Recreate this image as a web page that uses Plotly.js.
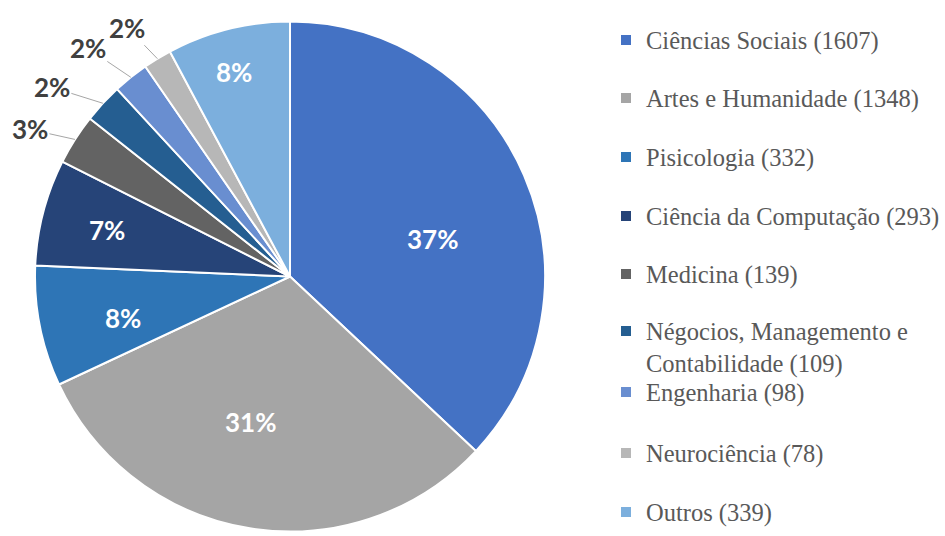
<!DOCTYPE html>
<html><head><meta charset="utf-8">
<script src="https://cdn.plot.ly/plotly-3.0.1.min.js"></script>
<style>html,body{margin:0;padding:0;background:#fff}#chart{width:945px;height:536px}</style>
</head><body><div id="chart"></div>
<script>
const categories = ["Ciências Sociais", "Artes e Humanidade", "Pisicologia", "Ciência da Computação", "Medicina", "Négocios, Managemento e<br>Contabilidade", "Engenharia", "Neurociência", "Outros"];
const counts = [1607, 1348, 332, 293, 139, 109, 98, 78, 339];
const pctLabels = ["37%", "31%", "8%", "7%", "3%", "2%", "2%", "2%", "8%"];
const colors = ["#4472C4", "#A5A5A5", "#2E75B6", "#264478", "#636363", "#255E91", "#698ED0", "#B7B7B7", "#7CAFDD"];

// layout / positioning constants (pixels)
const W = 945, H = 536, CX = 290, CY = 276.5, R = 255;
const outsideIdx = [4, 5, 6, 7];
const insidePos = {0: [432, 239], 1: [250, 422], 2: [123, 318], 3: [107, 230], 8: [234, 72]};
const outsideOffset = {4: [-45, -10], 5: [-51, -16], 6: [-43, -29], 7: [-30, -31]};
const legendY = [40, 98, 157, 216, 274, 347, 392, 453, 512];
const legendX = 606;

const labelFont = {family: "Lato, 'Open Sans', sans-serif", size: 26, weight: 700};
const total = counts.reduce((a, b) => a + b, 0);
let cum = 0;
const mids = counts.map(v => { const m = (cum + v / 2) / total; cum += v; return m; });

const annotations = [];
counts.forEach((v, i) => {
  if (outsideIdx.includes(i)) {
    const th = mids[i] * 2 * Math.PI;
    const px = CX + R * Math.sin(th), py = CY - R * Math.cos(th);
    annotations.push({
      x: px / W, y: 1 - py / H, xref: "paper", yref: "paper",
      text: pctLabels[i], showarrow: true, arrowhead: 0, arrowwidth: 1, arrowcolor: "#A6A6A6",
      ax: outsideOffset[i][0], ay: outsideOffset[i][1], standoff: 0,
      font: Object.assign({}, labelFont, {color: "#404040"})
    });
  } else {
    const p = insidePos[i];
    annotations.push({
      x: p[0] / W, y: 1 - p[1] / H, xref: "paper", yref: "paper",
      xanchor: "center", yanchor: "middle",
      text: pctLabels[i], showarrow: false,
      font: Object.assign({}, labelFont, {color: "#ffffff"})
    });
  }
});

const pie = {
  type: "pie",
  labels: categories.map((c, i) => c + " (" + counts[i] + ")"),
  values: counts,
  textinfo: "none",
  sort: false,
  direction: "clockwise",
  rotation: 0,
  showlegend: false,
  marker: {colors: colors, line: {color: "#ffffff", width: 2}},
  domain: {x: [(CX - R) / W, (CX + R) / W], y: [1 - (CY + R) / H, 1 - (CY - R) / H]},
  hoverinfo: "label+value+percent"
};

const legendTraces = categories.map((c, i) => ({
  type: "scatter", mode: "markers", x: [null], y: [null],
  name: c + " (" + counts[i] + ")",
  marker: {color: colors[i], symbol: "square", size: 10},
  legend: i === 0 ? "legend" : "legend" + (i + 1),
  showlegend: true, hoverinfo: "skip"
}));

const layout = {
  width: W, height: H,
  margin: {l: 0, r: 0, t: 0, b: 0},
  paper_bgcolor: "#ffffff",
  plot_bgcolor: "rgba(0,0,0,0)",
  xaxis: {visible: false}, yaxis: {visible: false},
  showlegend: true,
  annotations: annotations
};
categories.forEach((c, i) => {
  layout[i === 0 ? "legend" : "legend" + (i + 1)] = {
    x: legendX / W, xanchor: "left", y: 1 - legendY[i] / H, yanchor: "middle",
    valign: c.indexOf("<br>") >= 0 ? "top" : "middle", bgcolor: "rgba(0,0,0,0)",
    font: {family: "Liberation Serif, 'Times New Roman', serif", size: 24.5, color: "#595959"}
  };
});

Plotly.newPlot("chart", [pie].concat(legendTraces), layout, {displayModeBar: false});
</script></body></html>
